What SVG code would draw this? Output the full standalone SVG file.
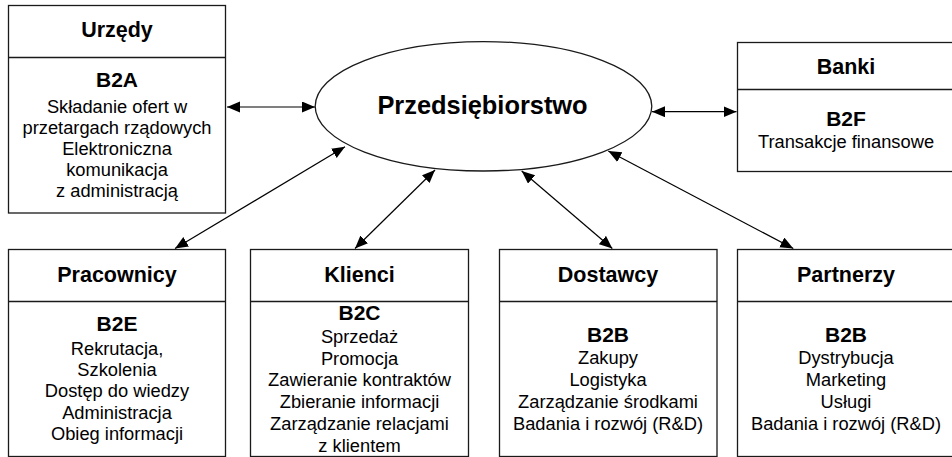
<svg xmlns="http://www.w3.org/2000/svg" width="952" height="457" viewBox="0 0 952 457">
<style>
.box{fill:#fff;stroke:#1a1a1a;stroke-width:1.3}
.div{stroke:#1a1a1a;stroke-width:1.3}
text{font-family:"Liberation Sans",Arial,sans-serif;fill:#000;text-anchor:middle}
.t{font-size:21.5px;font-weight:bold}
.h{font-size:21px;font-weight:bold}
.b{font-size:18.3px}
.c{font-size:25.4px;font-weight:bold}
.conn{stroke:#000;stroke-width:1.2;fill:none;marker-start:url(#ah);marker-end:url(#ah)}
</style>
<defs>
<marker id="ah" markerUnits="userSpaceOnUse" markerWidth="14" markerHeight="12" refX="13" refY="5.5" orient="auto-start-reverse">
<path d="M0,0 L13,5.5 L0,11 z" fill="#000"/>
</marker>
</defs>
<rect width="952" height="457" fill="#fff"/>
<g id="connectors">
<line class="conn" x1="227" y1="107" x2="315" y2="107"/>
<line class="conn" x1="652" y1="111.7" x2="736.5" y2="111.7"/>
<line class="conn" x1="345" y1="146.7" x2="175" y2="248.5"/>
<line class="conn" x1="435" y1="170" x2="355" y2="248.5"/>
<line class="conn" x1="521.7" y1="171" x2="612.3" y2="248.5"/>
<line class="conn" x1="608.3" y1="151" x2="793.3" y2="248.5"/>
</g>
<g id="przedsiebiorstwo">
<ellipse cx="483.5" cy="106.3" rx="168.3" ry="64.7" fill="#fff" stroke="#1a1a1a" stroke-width="1.3"/>
<text class="c" x="482.5" y="114">Przedsiębiorstwo</text>
</g>
<g id="urzedy">
<rect class="box" x="8.5" y="5.5" width="217" height="207.5"/>
<line class="div" x1="8.5" y1="57.5" x2="225.5" y2="57.5"/>
<text class="t" x="117" y="37">Urzędy</text>
<text class="h" x="117" y="87.3">B2A</text>
<text class="b" x="117" y="112.5">Składanie ofert w</text>
<text class="b" x="117" y="133.5">przetargach rządowych</text>
<text class="b" x="117" y="154.5">Elektroniczna</text>
<text class="b" x="117" y="175.5">komunikacja</text>
<text class="b" x="117" y="196.5">z administracją</text>
</g>
<g id="banki">
<rect class="box" x="737.5" y="42.5" width="217" height="129"/>
<line class="div" x1="737.5" y1="89.5" x2="954.5" y2="89.5"/>
<text class="t" x="846" y="74.3">Banki</text>
<text class="h" x="846" y="125.7">B2F</text>
<text class="b" x="846" y="148.3">Transakcje finansowe</text>
</g>
<g id="pracownicy">
<rect class="box" x="8.5" y="249.5" width="217" height="207"/>
<line class="div" x1="8.5" y1="301.5" x2="225.5" y2="301.5"/>
<text class="t" x="117" y="281.7">Pracownicy</text>
<text class="h" x="117" y="330.7">B2E</text>
<text class="b" x="117" y="354.5">Rekrutacja,</text>
<text class="b" x="117" y="375.5">Szkolenia</text>
<text class="b" x="117" y="397">Dostęp do wiedzy</text>
<text class="b" x="117" y="418.5">Administracja</text>
<text class="b" x="117" y="440">Obieg informacji</text>
</g>
<g id="klienci">
<rect class="box" x="250.5" y="249.5" width="218" height="207"/>
<line class="div" x1="250.5" y1="301.5" x2="468.5" y2="301.5"/>
<text class="t" x="359.5" y="281.7">Klienci</text>
<text class="h" x="359.5" y="320">B2C</text>
<text class="b" x="359.5" y="342.7">Sprzedaż</text>
<text class="b" x="359.5" y="364.5">Promocja</text>
<text class="b" x="359.5" y="386.3">Zawieranie kontraktów</text>
<text class="b" x="359.5" y="408.2">Zbieranie informacji</text>
<text class="b" x="359.5" y="430">Zarządzanie relacjami</text>
<text class="b" x="359.5" y="452">z klientem</text>
</g>
<g id="dostawcy">
<rect class="box" x="499.5" y="249.5" width="217.5" height="207"/>
<line class="div" x1="499.5" y1="301.5" x2="717" y2="301.5"/>
<text class="t" x="608" y="281.7">Dostawcy</text>
<text class="h" x="608" y="341.7">B2B</text>
<text class="b" x="608" y="363.5">Zakupy</text>
<text class="b" x="608" y="385.7">Logistyka</text>
<text class="b" x="608" y="407.8">Zarządzanie środkami</text>
<text class="b" x="608" y="430">Badania i rozwój (R&amp;D)</text>
</g>
<g id="partnerzy">
<rect class="box" x="737.5" y="249.5" width="217" height="207"/>
<line class="div" x1="737.5" y1="301.5" x2="954.5" y2="301.5"/>
<text class="t" x="846" y="281.7">Partnerzy</text>
<text class="h" x="846" y="341.7">B2B</text>
<text class="b" x="846" y="363.5">Dystrybucja</text>
<text class="b" x="846" y="385.7">Marketing</text>
<text class="b" x="846" y="407.8">Usługi</text>
<text class="b" x="846" y="430">Badania i rozwój (R&amp;D)</text>
</g>
</svg>
